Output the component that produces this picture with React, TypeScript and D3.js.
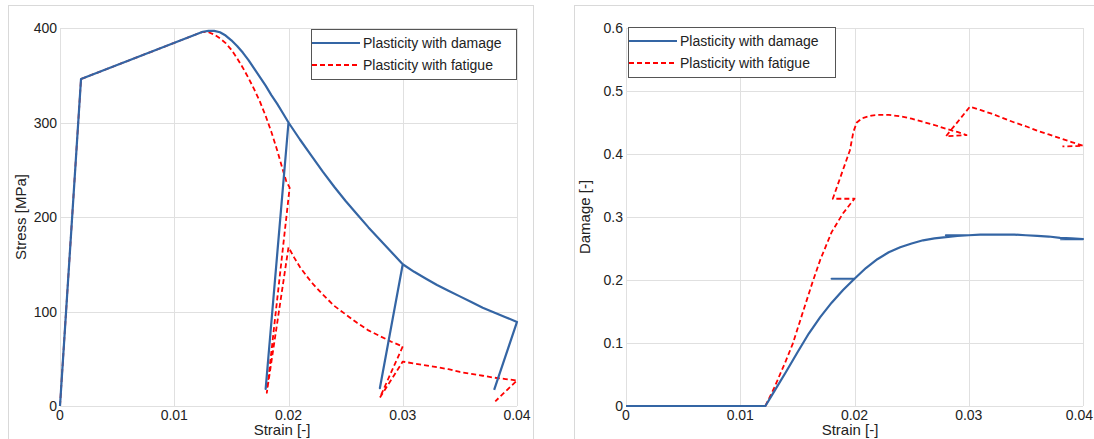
import React, { useEffect, useRef } from 'react';
import * as d3 from 'd3';

// x ticks shared by both panels
const strainTicks = [0, 0.01, 0.02, 0.03, 0.04];
const stressTicks = [0, 100, 200, 300, 400];
const damageTicks = [0, 0.1, 0.2, 0.3, 0.4, 0.5, 0.6];

const seriesNames = ['Plasticity with damage', 'Plasticity with fatigue'];

// left panel: stress vs strain
const stressDamageStrain = [
  0, 0.00184, 0.0125, 0.013, 0.0135, 0.014, 0.0145, 0.015, 0.0155, 0.016, 0.0165, 0.017, 0.0175, 0.018, 0.0185, 0.019, 0.0195, 0.02,
  0.018, 0.02,
  0.021, 0.022, 0.023, 0.024, 0.025, 0.026, 0.027, 0.028, 0.029, 0.03,
  0.028, 0.03,
  0.031, 0.032, 0.033, 0.034, 0.035, 0.036, 0.037, 0.038, 0.039, 0.04,
  0.038,
];
const stressDamageValue = [
  0, 346, 396, 397, 397, 395.5, 392, 387, 381, 374, 366, 357, 348, 339, 329, 320, 310, 300,
  18, 300,
  282, 265, 248, 232, 217, 203, 189, 176, 163, 150,
  19, 150,
  142, 135, 128, 122, 116, 110, 104, 99, 94, 89,
  17,
];

const stressFatigueStrain = [
  0, 0.00184, 0.0125, 0.013, 0.0135, 0.014, 0.0145, 0.015, 0.0155, 0.016, 0.0165, 0.017, 0.0175, 0.018, 0.0185, 0.019, 0.0195, 0.0198, 0.0201,
  0.0181, 0.02,
  0.0205, 0.021, 0.022, 0.023, 0.024, 0.025, 0.026, 0.027, 0.028, 0.029, 0.03,
  0.028, 0.03,
  0.031, 0.032, 0.033, 0.034, 0.035, 0.036, 0.037, 0.038, 0.039, 0.04,
  0.0381,
];
const stressFatigueValue = [
  0, 346, 396, 395.5, 393, 389, 384, 377, 368, 358, 347, 335, 322, 307, 290, 271, 250, 238, 231,
  14, 168,
  157, 147, 131, 118, 106, 97, 88, 80, 74, 68, 63,
  9, 47,
  45, 43, 41, 39, 36, 34, 32, 30, 28.5, 27,
  5,
];

// right panel: damage vs strain
const dmgDamageStrain = [
  0, 0.0122, 0.013, 0.014, 0.015, 0.016, 0.017, 0.018, 0.019, 0.02,
  0.018, 0.02,
  0.021, 0.022, 0.023, 0.024, 0.025, 0.026, 0.027, 0.028, 0.029, 0.03,
  0.028, 0.03,
  0.031, 0.032, 0.033, 0.034, 0.035, 0.036, 0.037, 0.038, 0.039, 0.04,
  0.038,
];
const dmgDamageValue = [
  0, 0, 0.024, 0.054, 0.085, 0.115, 0.141, 0.164, 0.184, 0.202,
  0.202, 0.202,
  0.219, 0.233, 0.244, 0.252, 0.258, 0.263, 0.266, 0.268, 0.27, 0.271,
  0.271, 0.271,
  0.272, 0.272, 0.272, 0.272, 0.271, 0.27, 0.269, 0.267, 0.266, 0.265,
  0.265,
];

const dmgFatigueStrain = [
  0.0122, 0.013, 0.014, 0.0146, 0.0155, 0.0163, 0.017, 0.018, 0.019, 0.02,
  0.0181, 0.0196, 0.0199, 0.0202, 0.0207, 0.0215, 0.022, 0.023, 0.024, 0.025, 0.026, 0.027, 0.028, 0.029, 0.0298,
  0.028, 0.0301,
  0.031, 0.032, 0.033, 0.034, 0.035, 0.036, 0.037, 0.038, 0.039, 0.04,
  0.0382,
];
const dmgFatigueValue = [
  0, 0.03, 0.072, 0.099, 0.15, 0.195, 0.232, 0.276, 0.306, 0.329,
  0.329, 0.406, 0.435, 0.45, 0.457, 0.461, 0.462, 0.462, 0.46, 0.456, 0.451, 0.446, 0.44, 0.435, 0.43,
  0.428, 0.475,
  0.47, 0.464, 0.457, 0.45, 0.444, 0.437, 0.431, 0.425, 0.419, 0.413,
  0.412,
];

const BLUE = '#3465a4';
const RED = '#ff0000';
const GRID = '#e0e0e0';
const FONT = '"Liberation Sans", Arial, sans-serif';
const W = 1094;

const App = () => {
  const ref = useRef(null);

  useEffect(() => {
    const svg = d3.select(ref.current);
    svg.selectAll('*').remove();

    const drawPanel = (opts) => {
      const { frame, xRange, yRange, yDomain, yTicks, yLabel, yLabelX, xLabelX, damage, fatigue, legend } = opts;
      const x = d3.scaleLinear().domain([0, 0.04]).range(xRange);
      const y = d3.scaleLinear().domain(yDomain).range(yRange);
      const g = svg.append('g');

      // panel frame
      g.append('rect')
        .attr('x', frame[0] + 0.5).attr('y', frame[1] + 0.5)
        .attr('width', frame[2]).attr('height', frame[3])
        .attr('fill', 'none').attr('stroke', '#d9d9d9');

      // grid
      g.selectAll('.vgrid').data(strainTicks).join('line')
        .attr('x1', d => Math.round(x(d)) + 0.5).attr('x2', d => Math.round(x(d)) + 0.5)
        .attr('y1', yRange[1]).attr('y2', yRange[0])
        .attr('stroke', GRID);
      g.selectAll('.hgrid').data(yTicks).join('line')
        .attr('x1', xRange[0]).attr('x2', xRange[1])
        .attr('y1', d => Math.round(y(d)) + 0.5).attr('y2', d => Math.round(y(d)) + 0.5)
        .attr('stroke', GRID);

      // tick labels (kept inside the page on the right edge)
      g.selectAll('.xt').data(strainTicks).join('text')
        .attr('x', d => x(d)).attr('y', 420)
        .attr('text-anchor', 'middle')
        .attr('font-family', FONT).attr('font-size', 14).attr('fill', '#222')
        .text(d => String(d))
        .each(function (d) {
          const half = this.getComputedTextLength() / 2;
          if (x(d) + half > W - 1) d3.select(this).attr('x', W - 1 - half);
        });
      g.selectAll('.yt').data(yTicks).join('text')
        .attr('x', xRange[0] - 3).attr('y', d => y(d) + 5)
        .attr('text-anchor', 'end')
        .attr('font-family', FONT).attr('font-size', 14).attr('fill', '#222')
        .text(d => String(d));

      // axis titles
      g.append('text')
        .attr('x', xLabelX).attr('y', 435)
        .attr('text-anchor', 'middle')
        .attr('font-family', FONT).attr('font-size', 15).attr('fill', '#222')
        .text('Strain [-]');
      g.append('text')
        .attr('transform', `translate(${yLabelX},${(yRange[0] + yRange[1]) / 2}) rotate(-90)`)
        .attr('text-anchor', 'middle')
        .attr('font-family', FONT).attr('font-size', 15).attr('fill', '#222')
        .text(yLabel);

      const line = d3.line()
        .x(d => x(d[0]))
        .y(d => y(d[1]))
        .curve(d3.curveLinear);

      g.append('path')
        .datum(d3.zip(fatigue[0], fatigue[1]))
        .attr('d', line)
        .attr('fill', 'none').attr('stroke', RED)
        .attr('stroke-width', 1.8).attr('stroke-dasharray', '5,3')
        .attr('stroke-linejoin', 'round');
      g.append('path')
        .datum(d3.zip(damage[0], damage[1]))
        .attr('d', line)
        .attr('fill', 'none').attr('stroke', BLUE)
        .attr('stroke-width', 2.2)
        .attr('stroke-linejoin', 'round');

      // legend
      const [lx, ly, lw, lh] = legend;
      const lg = g.append('g');
      lg.append('rect')
        .attr('x', lx + 0.5).attr('y', ly + 0.5).attr('width', lw).attr('height', lh)
        .attr('fill', '#fff').attr('stroke', '#555');
      seriesNames.forEach((name, i) => {
        const yy = ly + 14 + i * 22;
        lg.append('line')
          .attr('x1', lx + 1).attr('x2', lx + 49)
          .attr('y1', yy).attr('y2', yy)
          .attr('stroke', i === 0 ? BLUE : RED)
          .attr('stroke-width', i === 0 ? 2.2 : 1.8)
          .attr('stroke-dasharray', i === 0 ? null : '5,3');
        lg.append('text')
          .attr('x', lx + 52).attr('y', yy + 5)
          .attr('font-family', FONT).attr('font-size', 14).attr('fill', '#222')
          .text(name);
      });
    };

    drawPanel({
      frame: [8, 5, 525, 450],
      xRange: [60, 517],
      yRange: [406, 28],
      yDomain: [0, 400],
      yTicks: stressTicks,
      yLabel: 'Stress [MPa]',
      yLabelX: 26,
      xLabelX: 282,
      damage: [stressDamageStrain, stressDamageValue],
      fatigue: [stressFatigueStrain, stressFatigueValue],
      legend: [311, 29, 205, 50],
    });

    drawPanel({
      frame: [574, 5, 540, 450],
      xRange: [626, 1083],
      yRange: [406, 28],
      yDomain: [0, 0.6],
      yTicks: damageTicks,
      yLabel: 'Damage [-]',
      yLabelX: 590,
      xLabelX: 850,
      damage: [dmgDamageStrain, dmgDamageValue],
      fatigue: [dmgFatigueStrain, dmgFatigueValue],
      legend: [628, 27, 207, 50],
    });
  }, []);

  return (
    <svg
      ref={ref}
      width={W}
      height={439}
      style={{ position: 'absolute', left: 0, top: 0, background: '#fff' }}
    />
  );
};

export default App;
